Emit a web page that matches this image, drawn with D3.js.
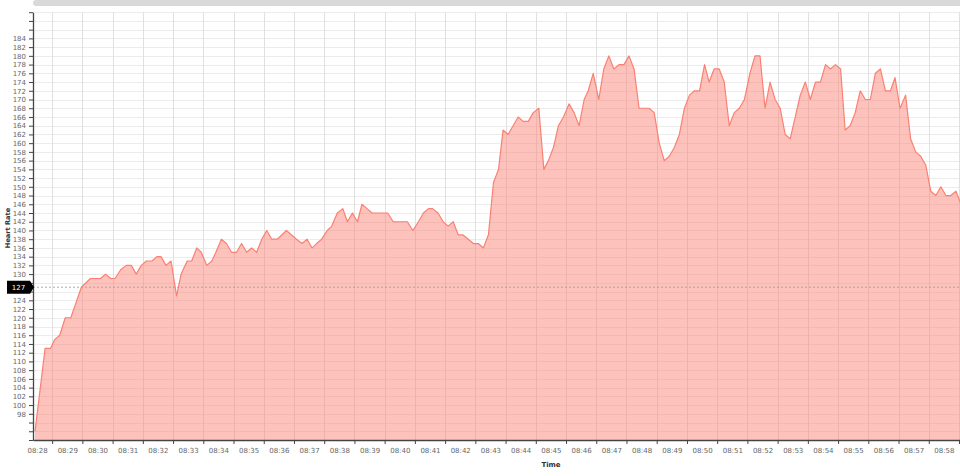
<!DOCTYPE html>
<html><head><meta charset="utf-8">
<script src="https://cdn.jsdelivr.net/npm/d3@7"></script>
<style>
html,body{margin:0;padding:0;background:#fff;overflow:hidden;}
svg{display:block;font-family:"DejaVu Sans",sans-serif;}
</style></head><body>
<svg id="chart" width="960" height="476"></svg>
<script>
// ---- data ----
const times = [
"08:27:56","08:28:16","08:28:27","08:28:35","08:28:45","08:28:56","08:29:07","08:29:16","08:29:28","08:29:46",
"08:30:06","08:30:16","08:30:26","08:30:35","08:30:46","08:30:57","08:31:07","08:31:17","08:31:27","08:31:37",
"08:31:48","08:31:58","08:32:06","08:32:16","08:32:26","08:32:37","08:32:46","08:32:58","08:33:07","08:33:17",
"08:33:26","08:33:37","08:33:47","08:33:55","08:34:06","08:34:16","08:34:26","08:34:36","08:34:46","08:34:56",
"08:35:06","08:35:16","08:35:26","08:35:36","08:35:46","08:35:57","08:36:15","08:36:35","08:36:46","08:36:56",
"08:37:06","08:37:15","08:37:25","08:37:36","08:37:45","08:37:56","08:38:07","08:38:16","08:38:26","08:38:36",
"08:38:45","08:38:55","08:39:05","08:39:15","08:39:36","08:39:47","08:40:15","08:40:26","08:40:37","08:40:47",
"08:40:57","08:41:05","08:41:16","08:41:26","08:41:36","08:41:46","08:41:56","08:42:05","08:42:16","08:42:26",
"08:42:36","08:42:46","08:42:56","08:43:06","08:43:16","08:43:25","08:43:35","08:43:45","08:43:55","08:44:05",
"08:44:15","08:44:25","08:44:36","08:44:46","08:44:55","08:45:05","08:45:15","08:45:25","08:45:36","08:45:46",
"08:45:56","08:46:06","08:46:14","08:46:24","08:46:35","08:46:45","08:46:55","08:47:05","08:47:15","08:47:25",
"08:47:35","08:47:45","08:47:55","08:48:15","08:48:25","08:48:35","08:48:45","08:48:55","08:49:05","08:49:15",
"08:49:25","08:49:35","08:49:45","08:49:55","08:50:05","08:50:14","08:50:24","08:50:34","08:50:44","08:50:54",
"08:51:04","08:51:14","08:51:24","08:51:35","08:51:45","08:51:55","08:52:05","08:52:15","08:52:25","08:52:35",
"08:52:45","08:52:55","08:53:05","08:53:15","08:53:25","08:53:35","08:53:45","08:53:55","08:54:05","08:54:15",
"08:54:25","08:54:35","08:54:44","08:54:54","08:55:04","08:55:14","08:55:24","08:55:34","08:55:44","08:55:54",
"08:56:04","08:56:14","08:56:23","08:56:33","08:56:44","08:56:54","08:57:04","08:57:14","08:57:24","08:57:34",
"08:57:44","08:57:54","08:58:04","08:58:14","08:58:24","08:58:34"
];
const heartRate = [
94,113,113,115,116,120,120,123,127,129,
129,130,129,129,131,132,132,130,132,133,
133,134,134,132,133,125,130,133,133,136,
135,132,133,135,138,137,135,135,137,135,
136,135,138,140,138,138,140,138,137,138,
136,137,138,140,141,144,145,142,144,142,
146,145,144,144,144,142,142,140,142,144,
145,145,144,142,141,142,139,139,138,137,
137,136,139,151,154,163,162,164,166,165,
165,167,168,154,156,159,164,166,169,167,
164,170,172,176,170,177,180,177,178,178,
180,177,168,168,167,160,156,157,159,162,
168,171,172,172,178,174,177,177,174,164,
167,168,170,176,180,180,168,174,170,168,
162,161,166,171,174,170,174,174,178,177,
178,177,163,164,167,172,170,170,176,177,
172,172,175,168,171,161,158,157,155,149,
148,150,148,148,149,146
];
const xLabels = ["08:28","08:29","08:30","08:31","08:32","08:33","08:34","08:35","08:36","08:37",
"08:38","08:39","08:40","08:41","08:42","08:43","08:44","08:45","08:46","08:47","08:48","08:49",
"08:50","08:51","08:52","08:53","08:54","08:55","08:56","08:57","08:58"];
const yTicks = d3.range(92, 191, 2);
const yLabelRange = [98, 184];
const xDomain = ["08:27:52", "08:58:32"];
const yDomain = [92, 190];
const markerValue = 127;
const xTitle = "Time", yTitle = "Heart Rate";

// ---- chart ----
const W = 960, H = 476;
const plotL = 33, plotR = 960, plotT = 12.2, plotB = 440;
const parse = d3.timeParse("%H:%M:%S");
const parseHM = d3.timeParse("%H:%M");
const data = times.map((t, i) => ({t: parse(t), v: heartRate[i]}));
const x = d3.scaleTime().domain(xDomain.map(parse)).range([plotL, plotR]);
const y = d3.scaleLinear().domain(yDomain).range([plotB, plotT]);
const labelTimes = xLabels.map(parseHM);
const tickTimes = labelTimes.map(d => d3.timeSecond.offset(d, 30));

const svg = d3.select("#chart");

// scrollbar
svg.append("rect").attr("x", plotL).attr("y", 0).attr("width", W - plotL + 10).attr("height", 6)
  .attr("rx", 3).attr("fill", "#d9d9d9");

// grid
const grid = svg.append("g");
grid.selectAll("line.h").data(yTicks).join("line").attr("class", "h")
  .attr("x1", plotL).attr("x2", plotR)
  .attr("y1", d => Math.round(y(d)) + 0.5).attr("y2", d => Math.round(y(d)) + 0.5)
  .attr("stroke", "#ececec").attr("stroke-width", 1);
grid.selectAll("line.v").data(tickTimes).join("line").attr("class", "v")
  .attr("x1", d => Math.round(x(d)) + 0.5).attr("x2", d => Math.round(x(d)) + 0.5)
  .attr("y1", plotT).attr("y2", plotB)
  .attr("stroke", "#e0e0e0").attr("stroke-width", 1);

// area + line
const area = d3.area().x(d => x(d.t)).y0(y(yDomain[0])).y1(d => y(d.v));
const line = d3.line().x(d => x(d.t)).y(d => y(d.v));
svg.append("path").datum(data).attr("d", area).attr("fill", "#fa8072").attr("fill-opacity", 0.48);
svg.append("path").datum(data).attr("d", line).attr("fill", "none")
  .attr("stroke", "#fa8072").attr("stroke-width", 1.2).attr("stroke-linejoin", "round");

// marker dashed line
svg.append("line").attr("x1", plotL).attr("x2", plotR)
  .attr("y1", y(markerValue)).attr("y2", y(markerValue))
  .attr("stroke", "#999").attr("stroke-width", 0.8).attr("stroke-dasharray", "2,2");

// y axis
const yAxis = d3.axisLeft(y).tickValues(yTicks).tickSize(4).tickSizeOuter(0).tickPadding(3)
  .tickFormat(d => (d >= yLabelRange[0] && d <= yLabelRange[1] && Math.abs(d - markerValue) > 1.5) ? d : "");
const gy = svg.append("g").attr("transform", `translate(${plotL},0)`).call(yAxis);
gy.select(".domain").attr("stroke", "#444").attr("stroke-width", 1.3);
gy.selectAll(".tick line").attr("stroke", "#444");
gy.selectAll("text").attr("fill", "#666").attr("font-size", 7).attr("font-family", "DejaVu Sans");

// x axis ticks
const xAxis = d3.axisBottom(x).tickValues(tickTimes).tickSize(4).tickSizeOuter(0).tickFormat("");
const gx = svg.append("g").attr("transform", `translate(0,${plotB})`).call(xAxis);
gx.select(".domain").attr("stroke", "#444").attr("stroke-width", 1.3);
gx.selectAll(".tick line").attr("stroke", "#444");
// x labels at minutes
const xLabAxis = d3.axisBottom(x).tickValues(labelTimes).tickSize(0).tickPadding(8)
  .tickFormat(d3.timeFormat("%H:%M"));
const gxl = svg.append("g").attr("transform", `translate(0,${plotB})`).call(xLabAxis);
gxl.select(".domain").remove();
gxl.selectAll("text").attr("fill", "#666").attr("font-size", 7).attr("font-family", "DejaVu Sans");

// titles
svg.append("text").attr("x", 551).attr("y", 467).attr("text-anchor", "middle")
  .attr("font-size", 7).attr("font-weight", "bold").attr("fill", "#333").text(xTitle);
svg.append("text").attr("transform", "translate(10,228) rotate(-90)").attr("text-anchor", "middle")
  .attr("font-size", 6.6).attr("font-weight", "bold").attr("fill", "#333").text(yTitle);

// current value marker
const my = y(markerValue);
const mk = svg.append("g");
mk.append("path")
  .attr("d", `M7,${my - 6.5} H30 L34,${my} L30,${my + 6.5} H7 Z`)
  .attr("fill", "#000");
mk.append("text").attr("x", 18.5).attr("y", my).attr("dy", "0.35em").attr("text-anchor", "middle")
  .attr("fill", "#fff").attr("font-size", 7).text(markerValue);
</script>
</body></html>
